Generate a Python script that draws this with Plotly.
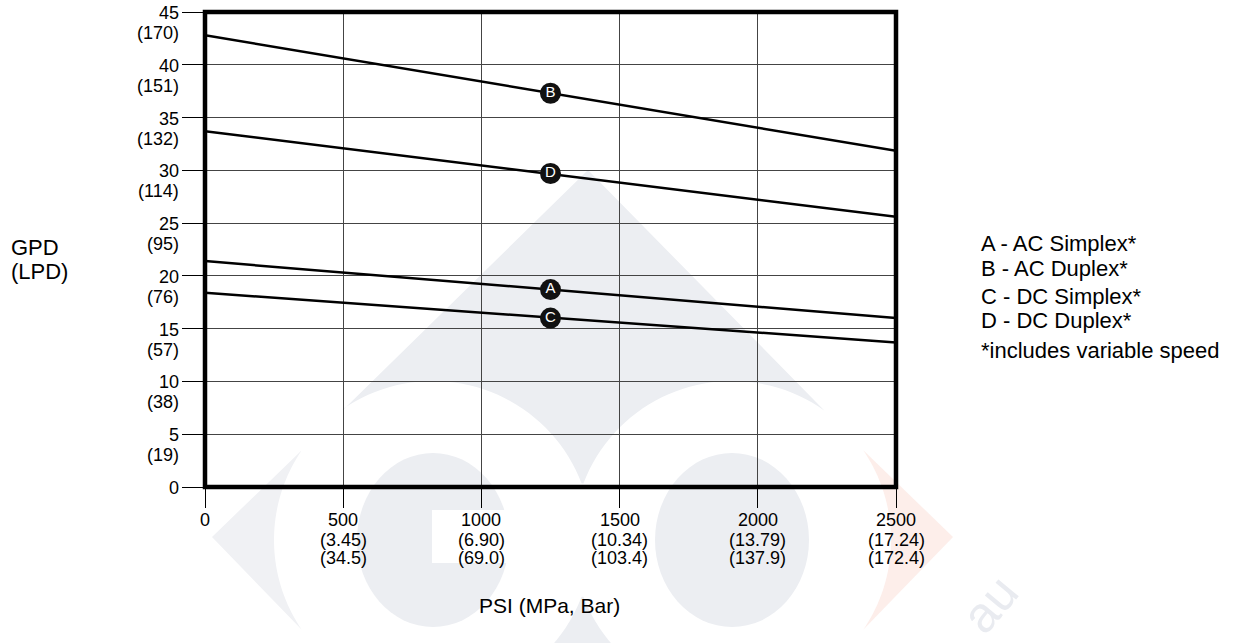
import numpy as np
import plotly.graph_objects as go

# --- DATA ---
psi = [0, 2500]
line_a = [21.4, 16.0]    # A - AC Simplex
line_b = [42.8, 31.85]   # B - AC Duplex
line_c = [18.4, 13.7]    # C - DC Simplex
line_d = [33.7, 25.6]    # D - DC Duplex

tag_psi = [1250, 1250, 1250, 1250]
tag_names = ["A", "B", "C", "D"]
tag_vals = [18.7, 37.3, 16.0, 29.7]

gpd_ticks = [0, 5, 10, 15, 20, 25, 30, 35, 40, 45]
lpd_labels = ["", "(19)", "(38)", "(57)", "(76)", "(95)", "(114)", "(132)", "(151)", "(170)"]

psi_ticks = [0, 500, 1000, 1500, 2000, 2500]
mpa_labels = ["", "(3.45)", "(6.90)", "(10.34)", "(13.79)", "(17.24)"]
bar_labels = ["", "(34.5)", "(69.0)", "(103.4)", "(137.9)", "(172.4)"]

legend_lines = ["A - AC Simplex*", "B - AC Duplex*", "C - DC Simplex*",
                "D - DC Duplex*", "*includes variable speed"]

# --- GEOMETRY (pixels) ---
W, H = 1240, 643
L, R, T, B = 205, 344, 12, 156
PW, PH = W - L - R, H - T - B
FONT = "Liberation Sans, Arial, Helvetica, sans-serif"


def px(x):
    return (x - L) / PW


def py(y):
    return (H - B - y) / PH


def path_from(points):
    pts = [f"{px(x):.5f},{py(y):.5f}" for x, y in points]
    return "M" + " L".join(pts) + " Z"


def arc(cx, cy, r, t0, t1, n=40):
    t = np.radians(np.linspace(t0, t1, n))
    return list(zip(cx + r * np.cos(t), cy + r * np.sin(t)))


fig = go.Figure()

for ys in [line_a, line_b, line_c, line_d]:
    fig.add_trace(go.Scatter(x=psi, y=ys, mode="lines",
                             line=dict(color="black", width=2.5),
                             hoverinfo="skip", showlegend=False))

fig.add_trace(go.Scatter(x=tag_psi, y=tag_vals, mode="markers+text",
                         text=tag_names, textposition="middle center",
                         textfont=dict(color="white", size=15, family=FONT),
                         marker=dict(size=21, color="#111111"),
                         hoverinfo="skip", showlegend=False))

# --- watermark logo (faint) ---
grey = "#eceef2"
c1, c2, rr = (433, 540), (732, 540), 159
tri = [(588, 170), (343, 410)] + arc(*c1, rr, -124.7, -20.9) + arc(*c2, rr, -159.2, -54.4)
low = arc(*c1, rr, 20.9, 45) + arc(*c2, rr, 135, 159.1)
chev_r = [(863, 450), (953, 537), (863, 630)] + arc(*c2, rr, 34.5, -34.5)
chev_l = [(302, 450), (212, 537), (302, 630)] + arc(*c1, rr, 145.5, 214.5)
shapes = [
    dict(type="path", path=path_from(tri), fillcolor=grey, line_width=0),
    dict(type="path", path=path_from(low), fillcolor=grey, line_width=0),
    dict(type="path", path=path_from(chev_l), fillcolor="#f0f1f4", line_width=0),
    dict(type="circle", x0=px(357), x1=px(509), y0=py(453), y1=py(627),
         fillcolor=grey, line_width=0),
    dict(type="rect", x0=px(432), x1=px(539), y0=py(510), y1=py(563),
         fillcolor="white", line_width=0),
    dict(type="circle", x0=px(655), x1=px(809), y0=py(453), y1=py(627),
         fillcolor=grey, line_width=0),
    dict(type="path", path=path_from(chev_r), fillcolor="#fdeeea", line_width=0),
]
for s in shapes:
    s.update(xref="paper", yref="paper", layer="below")
# frame
shapes.append(dict(type="rect", xref="paper", yref="paper", x0=0, x1=1, y0=0, y1=1,
                   line=dict(color="black", width=4.5), layer="above"))

ann = []
for v, lp in zip(gpd_ticks, lpd_labels):
    ann.append(dict(x=px(181), y=v, xref="paper", yref="y", text=str(v),
                    xanchor="right", yanchor="middle", yshift=-1, showarrow=False,
                    font=dict(size=18, color="black", family=FONT)))
    if lp:
        ann.append(dict(x=px(181), y=v, xref="paper", yref="y", text=lp,
                        xanchor="right", yanchor="middle", yshift=-21, showarrow=False,
                        font=dict(size=18, color="black", family=FONT)))

for p, m, b in zip(psi_ticks, mpa_labels, bar_labels):
    for txt, ypix in [(str(p), 520), (m, 540), (b, 558)]:
        if txt:
            ann.append(dict(x=p, y=py(ypix), xref="x", yref="paper", text=txt,
                            xanchor="center", yanchor="middle", showarrow=False,
                            font=dict(size=18, color="black", family=FONT)))

ann.append(dict(x=px(9), y=py(248), xref="paper", yref="paper", text="GPD",
                xanchor="left", yanchor="middle", showarrow=False,
                font=dict(size=22, color="black", family=FONT)))
ann.append(dict(x=px(9), y=py(271), xref="paper", yref="paper", text="(LPD)",
                xanchor="left", yanchor="middle", showarrow=False,
                font=dict(size=22, color="black", family=FONT)))
ann.append(dict(x=px(549), y=py(605), xref="paper", yref="paper", text="PSI (MPa, Bar)",
                xanchor="center", yanchor="middle", showarrow=False,
                font=dict(size=21, color="black", family=FONT)))

for txt, ypix in zip(legend_lines, [243, 268, 296, 321, 350]):
    ann.append(dict(x=px(979), y=py(ypix), xref="paper", yref="paper", text=txt,
                    xanchor="left", yanchor="middle", showarrow=False,
                    font=dict(size=22, color="black", family=FONT)))

ann.append(dict(x=px(990), y=py(604), xref="paper", yref="paper", text="au",
                textangle=-50, showarrow=False, xanchor="center", yanchor="middle",
                font=dict(size=50, color="#e9ebf0", family=FONT)))

fig.update_layout(
    width=W, height=H,
    margin=dict(l=L, r=R, t=T, b=B, pad=0),
    paper_bgcolor="white", plot_bgcolor="rgba(0,0,0,0)",
    showlegend=False,
    shapes=shapes, annotations=ann,
    xaxis=dict(range=[0, 2500], tickvals=psi_ticks, showticklabels=False,
               ticks="outside", ticklen=20, tickwidth=1, tickcolor="black",
               showgrid=True, gridcolor="#444444", gridwidth=1,
               zeroline=False, showline=False, fixedrange=True),
    yaxis=dict(range=[0, 45], tickvals=gpd_ticks, showticklabels=False,
               ticks="outside", ticklen=22, tickwidth=1, tickcolor="black",
               showgrid=True, gridcolor="#444444", gridwidth=1,
               zeroline=False, showline=False, fixedrange=True),
)

fig.write_html("out.html", config={"displayModeBar": False},
               post_script="document.body.style.margin='0';")
